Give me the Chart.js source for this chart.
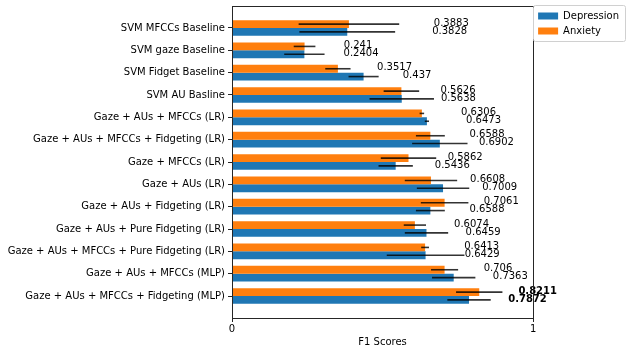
<!DOCTYPE html>
<html>
<head>
<meta charset="utf-8">
<script src="https://cdn.jsdelivr.net/npm/chart.js@4"></script>
<style>
  body { margin: 0; background: #fff; }
  #wrap { width: 636px; height: 352px; }
</style>
</head>
<body>
<div id="wrap"><canvas id="scores"></canvas></div>
<script>
const categories = [
    "SVM MFCCs Baseline",
    "SVM gaze Baseline",
    "SVM Fidget Baseline",
    "SVM AU Basline",
    "Gaze + AUs + MFCCs (LR)",
    "Gaze + AUs + MFCCs + Fidgeting (LR)",
    "Gaze + MFCCs (LR)",
    "Gaze + AUs (LR)",
    "Gaze + AUs + Fidgeting (LR)",
    "Gaze + AUs + Pure Fidgeting (LR)",
    "Gaze + AUs + MFCCs + Pure Fidgeting (LR)",
    "Gaze + AUs + MFCCs (MLP)",
    "Gaze + AUs + MFCCs + Fidgeting (MLP)"
];
const depression = [0.3828, 0.2404, 0.437, 0.5638, 0.6473, 0.6902, 0.5436, 0.7009, 0.6588, 0.6459, 0.6429, 0.7363, 0.7872];
const depressionErr = [0.159, 0.067, 0.05, 0.107, 0.007, 0.092, 0.057, 0.087, 0.048, 0.072, 0.129, 0.072, 0.072];
const anxiety = [0.3883, 0.241, 0.3517, 0.5626, 0.6306, 0.6588, 0.5862, 0.6608, 0.7061, 0.6074, 0.6413, 0.706, 0.8211];
const anxietyErr = [0.167, 0.036, 0.042, 0.059, 0.0075, 0.048, 0.092, 0.087, 0.079, 0.037, 0.013, 0.045, 0.077];
const xTicks = [0, 1];

const font = "'DejaVu Sans', sans-serif";
const ink = "#262626";

// error bars + value labels drawn on top of the bars
const barExtras = {
    id: "barExtras",
    afterDatasetsDraw(chart) {
        const ctx = chart.ctx;
        const x = chart.scales.x;
        const errs = [depressionErr, anxietyErr];
        ctx.save();
        chart.data.datasets.forEach((ds, di) => {
            const meta = chart.getDatasetMeta(di);
            meta.data.forEach((bar, i) => {
                const v = ds.data[i].x;
                const e = errs[di][i];
                ctx.strokeStyle = "rgba(0,0,0,0.8)";
                ctx.lineWidth = 1.6;
                ctx.beginPath();
                ctx.moveTo(x.getPixelForValue(v - e), bar.y);
                ctx.lineTo(x.getPixelForValue(v + e), bar.y);
                ctx.stroke();

                const gap = i === 0 ? 0.282 : 0.13;
                ctx.fillStyle = "#000";
                ctx.font = (i === categories.length - 1 ? "bold " : "") + "10px " + font;
                ctx.textBaseline = "middle";
                ctx.textAlign = "left";
                ctx.fillText(String(v), x.getPixelForValue(v + gap), bar.y - 1);
            });
        });
        ctx.restore();
    }
};

// top/right spines and the legend frame
const frame = {
    id: "frame",
    afterDraw(chart) {
        const ctx = chart.ctx;
        const a = chart.chartArea;
        ctx.save();
        ctx.strokeStyle = ink;
        ctx.lineWidth = 1;
        ctx.strokeRect(Math.round(a.left) + 0.5, Math.round(a.top) + 0.5, Math.round(a.right - a.left), Math.round(a.bottom - a.top));

        const hb = chart.legend.legendHitBoxes;
        if (hb && hb.length) {
            const l = hb[0].left - 5;
            const t = hb[0].top - 6;
            let r = 0;
            hb.forEach(h => r = Math.max(r, h.left + h.width));
            const b = hb[hb.length - 1].top + hb[hb.length - 1].height + 5;
            ctx.strokeStyle = "#d0d0d0";
            ctx.beginPath();
            ctx.roundRect(Math.round(l) + 0.5, Math.round(t) + 0.5, Math.round(r + 6 - l), Math.round(b - t), 2);
            ctx.stroke();
        }
        ctx.restore();
    }
};

Chart.defaults.font.family = font;
Chart.defaults.font.size = 10;
Chart.defaults.color = "#000";

new Chart(document.getElementById("scores"), {
    type: "bar",
    data: {
        datasets: [{
            label: "Depression",
            data: depression.map((v, i) => ({x: v, y: i})),
            backgroundColor: "#1f77b4",
            order: 1
        }, {
            label: "Anxiety",
            data: anxiety.map((v, i) => ({x: v, y: i})),
            backgroundColor: "#ff7f0e",
            order: 0
        }]
    },
    options: {
        indexAxis: "y",
        responsive: true,
        maintainAspectRatio: false,
        animation: false,
        categoryPercentage: 0.7,
        barPercentage: 1.0,
        layout: {padding: {left: 7, top: 6, right: 7, bottom: 3}},
        scales: {
            y: {
                type: "linear",
                reverse: true,
                offset: false,
                min: -0.985,
                max: 12.985,
                afterFit: s => {
                    s.ctx.save();
                    s.ctx.font = "10px " + font;
                    const widest = Math.max(...categories.map(c => s.ctx.measureText(c).width));
                    s.ctx.restore();
                    s.width = Math.ceil(widest) + 7;
                    s.paddingTop = 0;
                    s.paddingBottom = 0;
                },
                grid: {drawOnChartArea: false, drawTicks: true, tickLength: 4, color: ink, offset: false},
                border: {display: true, color: ink, width: 1},
                ticks: {
                    stepSize: 1,
                    maxTicksLimit: 20,
                    includeBounds: false,
                    padding: 3,
                    color: "#000",
                    autoSkip: false,
                    callback: v => Number.isInteger(v) && categories[v] ? categories[v] : ""
                }
            },
            x: {
                type: "linear",
                min: 0,
                max: 1,
                afterBuildTicks: s => { s.ticks = xTicks.map(v => ({value: v})); },
                grid: {drawOnChartArea: false, drawTicks: true, tickLength: 4, color: ink},
                border: {display: true, color: ink, width: 1},
                ticks: {padding: 1, color: "#000", maxRotation: 0},
                title: {display: true, text: "F1 Scores", color: "#000", padding: {top: 0, bottom: 1}}
            }
        },
        plugins: {
            legend: {
                position: "right",
                align: "start",
                labels: {
                    boxWidth: 20, boxHeight: 7, padding: 5, color: "#000", font: {size: 10},
                    sort: (a, b) => a.datasetIndex - b.datasetIndex
                }
            },
            tooltip: {enabled: false}
        }
    },
    plugins: [barExtras, frame]
});
</script>
</body>
</html>
